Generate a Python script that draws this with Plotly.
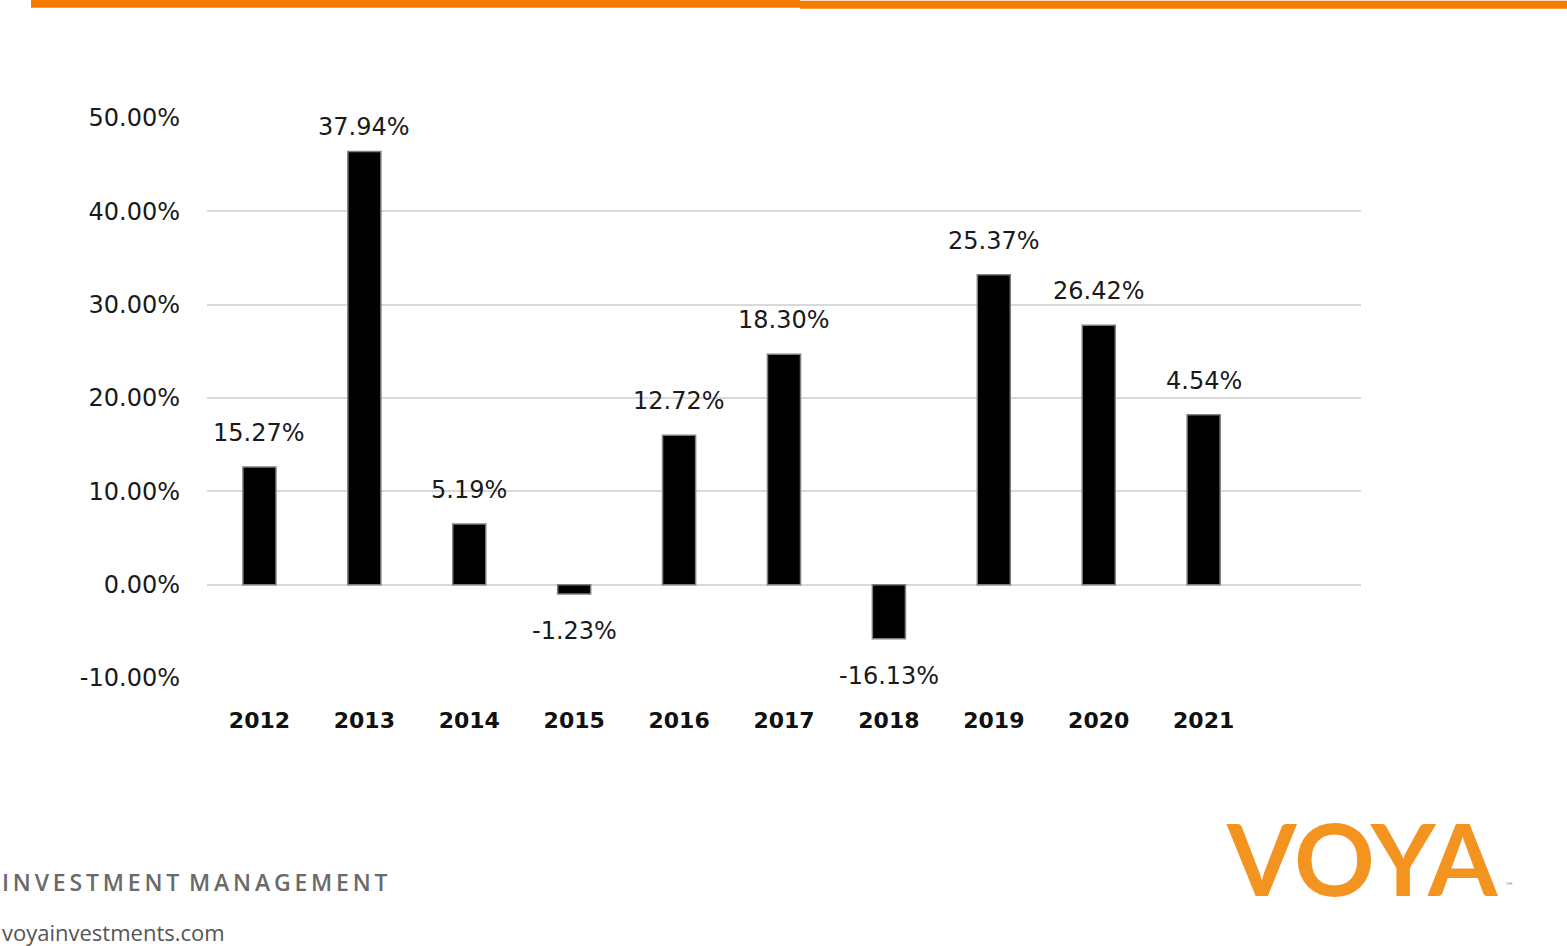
import plotly.graph_objects as go

years = ["2012", "2013", "2014", "2015", "2016", "2017", "2018", "2019", "2020", "2021"]
bar_values = [12.6, 46.4, 6.5, -1.0, 16.0, 24.7, -5.8, 33.2, 27.8, 18.2]
label_texts = ["15.27%", "37.94%", "5.19%", "-1.23%", "12.72%", "18.30%", "-16.13%", "25.37%", "26.42%", "4.54%"]
y_ticks = [-10, 0, 10, 20, 30, 40, 50]

W, H = 1567, 946
L, R, T, B = 207, 1361, 118, 678
YMIN, YMAX = -10, 50
unit_px = (B - T) / (YMAX - YMIN)

fig = go.Figure()
fig.add_trace(go.Bar(
    x=list(range(len(years))), y=bar_values,
    width=0.315,
    marker=dict(color="#000000", line=dict(color="#7f7f7f", width=1.5)),
    hoverinfo="skip",
))

FONT = "DejaVu Sans"
annotations = []
for i, (v, t) in enumerate(zip(bar_values, label_texts)):
    if v >= 0:
        ly = min(v + 34 / unit_px, YMAX - 9 / unit_px)
    else:
        ly = v - 37 / unit_px
    annotations.append(dict(x=i, y=ly, xref="x", yref="y", text=t, showarrow=False,
                            yanchor="middle", xanchor="center",
                            font=dict(family=FONT, size=24, color="#1a1a1a")))

def px_x(px):
    return (px - L) / (R - L)

def px_y(py):
    return (B - py) / (B - T)

footer_title = "INVESTMENT MANAGEMENT"
spaced = "\u2009".join(footer_title).replace("\u2009 \u2009", " \u2009")

# footer texts
annotations.append(dict(x=px_x(0), y=px_y(882), xref="paper", yref="paper", xanchor="left", yanchor="middle",
                        text=spaced, showarrow=False,
                        font=dict(family="Open Sans", size=23, color="#6a6a6a", weight=600)))
annotations.append(dict(x=px_x(0), y=px_y(932), xref="paper", yref="paper", xanchor="left", yanchor="middle",
                        text="voyainvestments.com", showarrow=False,
                        font=dict(family="Open Sans", size=22, color="#555555")))
# logo
annotations.append(dict(x=px_x(1362), y=px_y(857), xref="paper", yref="paper", xanchor="center", yanchor="middle",
                        text="VOYA", showarrow=False,
                        font=dict(family="Lato", size=100, color="#F39420", weight=700)))
annotations.append(dict(x=px_x(1503), y=px_y(886), xref="paper", yref="paper", xanchor="left", yanchor="middle",
                        text="™", showarrow=False,
                        font=dict(family="DejaVu Sans", size=9, color="#888888")))

shapes = [
    dict(type="rect", xref="paper", yref="paper", x0=px_x(31), x1=px_x(800), y0=px_y(9), y1=px_y(1),
         fillcolor="#F47D00", line=dict(width=0), layer="above"),
    dict(type="rect", xref="paper", yref="paper", x0=px_x(800), x1=px_x(1567), y0=px_y(10), y1=px_y(2),
         fillcolor="#F47D00", line=dict(width=0), layer="above"),
]

fig.update_layout(
    width=W, height=H,
    margin=dict(l=L, r=W - R, t=T - 1, b=H - B, pad=0),
    paper_bgcolor="white", plot_bgcolor="white",
    showlegend=False,
    annotations=annotations,
    shapes=shapes,
    xaxis=dict(
        range=[-0.5, 10.5],
        tickmode="array", tickvals=list(range(len(years))), ticktext=years,
        showgrid=False, zeroline=False, showline=False, ticks="",
        tickfont=dict(family=FONT, size=22, color="#111111", weight="bold"),
        ticklabelstandoff=27,
    ),
    yaxis=dict(
        range=[YMIN, YMAX + 1 / unit_px],
        tickmode="array", tickvals=y_ticks,
        ticktext=[f"{v:.2f}%" for v in y_ticks],
        showgrid=True, gridcolor="#d9d9d9", gridwidth=2,
        zeroline=True, zerolinecolor="#d9d9d9", zerolinewidth=2,
        showline=False, ticks="",
        tickfont=dict(family=FONT, size=24, color="#1a1a1a"),
        ticklabelstandoff=26,
    ),
)

fig.write_html("out.html", config={"displayModeBar": False},
               post_script="document.body.style.margin='0';document.body.style.overflow='hidden';")
